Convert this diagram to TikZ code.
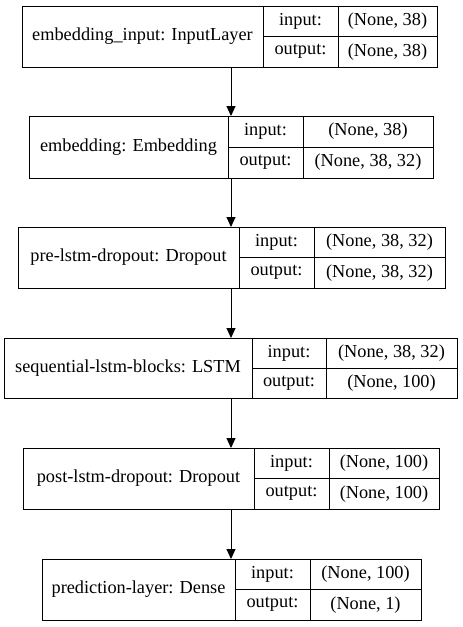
\documentclass[tikz,border=0pt]{standalone}
\usepackage{fontspec}
\setmainfont{Liberation Serif}
\usetikzlibrary{arrows.meta}
\newcommand\lyrpos[6]{\def\LXa{#1}\def\LXb{#2}\def\LXc{#3}\def\LXd{#4}\def\LYa{#5}\def\LYb{#6}}
\newcommand\lyr[4]{%
 \pgfmathsetmacro\LWa{\LXb-\LXa}\pgfmathsetmacro\LWb{\LXc-\LXb}\pgfmathsetmacro\LWc{\LXd-\LXc}%
 \pgfmathsetmacro\LH{\LYb-\LYa}\pgfmathsetmacro\LHh{\LH/2}\pgfmathsetmacro\LYm{(\LYa+\LYb)/2}%
 \node[cell,minimum width=\LWa pt,minimum height=\LH pt] (#1) at (\LXa,\LYa) {#2};
 \node[cell,minimum width=\LWb pt,minimum height=\LHh pt] (#1-il) at (\LXb,\LYa) {input:};
 \node[cell,minimum width=\LWb pt,minimum height=\LHh pt] (#1-ol) at (\LXb,\LYm) {output:};
 \node[cell,minimum width=\LWc pt,minimum height=\LHh pt] (#1-iv) at (\LXc,\LYa) {#3};
 \node[cell,minimum width=\LWc pt,minimum height=\LHh pt] (#1-ov) at (\LXc,\LYm) {#4};
}
\begin{document}
\begin{tikzpicture}[x=1pt,y=-1pt,
  cell/.style={draw,anchor=north west,inner sep=0pt,outer sep=0pt,line width=1pt,
    font=\fontsize{18.3}{20}\selectfont},
  arr/.style={line width=1pt,-{Triangle[length=10pt,width=9pt]}}]
\fill[white] (0,0) rectangle (463,627);
\useasboundingbox (0,0) rectangle (463,627);
\coordinate (ax) at (231,0);
\lyrpos{22}{263}{338}{437}{6}{67}
\lyr{L1}{embedding\_input: InputLayer}{(None, 38)}{(None, 38)}
\lyrpos{29}{228}{303}{433}{116}{178}
\lyr{L2}{embedding: Embedding}{(None, 38)}{(None, 38, 32)}
\lyrpos{18}{239}{314}{445}{227}{288}
\lyr{L3}{pre-lstm-dropout: Dropout}{(None, 38, 32)}{(None, 38, 32)}
\lyrpos{4}{252}{326}{457}{338}{398}
\lyr{L4}{sequential-lstm-blocks: LSTM}{(None, 38, 32)}{(None, 100)}
\lyrpos{23}{254}{329}{439}{448}{509}
\lyr{L5}{post-lstm-dropout: Dropout}{(None, 100)}{(None, 100)}
\lyrpos{42}{235}{310}{421}{559}{620}
\lyr{L6}{prediction-layer: Dense}{(None, 100)}{(None, 1)}
\draw[arr] (L1.south -| ax) -- (L2.north -| ax);
\draw[arr] (L2.south -| ax) -- (L3.north -| ax);
\draw[arr] (L3.south -| ax) -- (L4.north -| ax);
\draw[arr] (L4.south -| ax) -- (L5.north -| ax);
\draw[arr] (L5.south -| ax) -- (L6.north -| ax);
\end{tikzpicture}
\end{document}
